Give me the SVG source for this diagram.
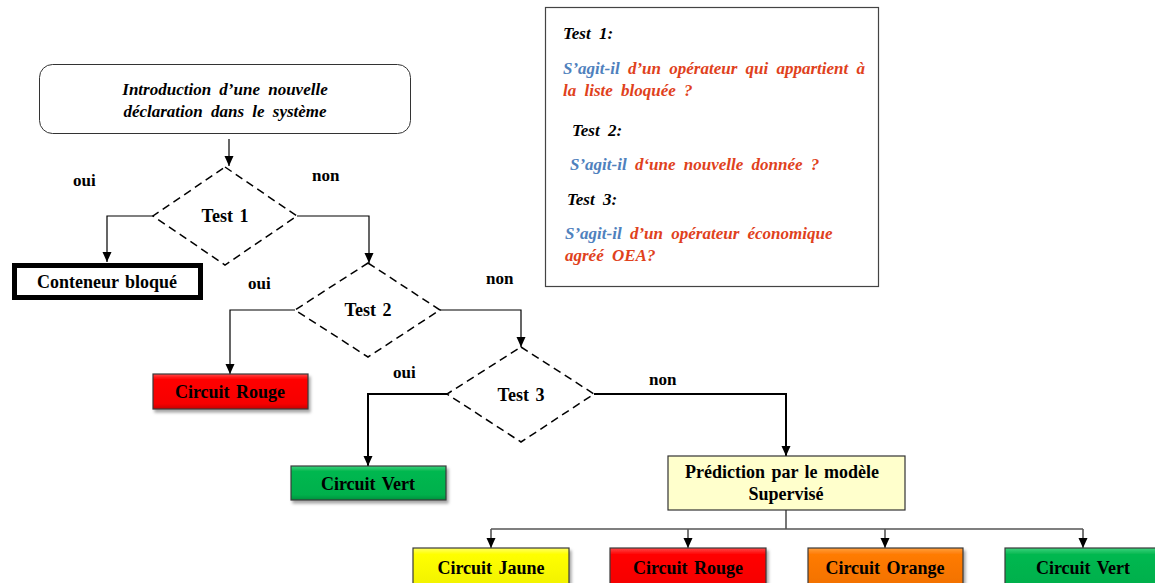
<svg xmlns="http://www.w3.org/2000/svg" width="1155" height="583" viewBox="0 0 1155 583">
  <defs>
    <marker id="arrow" markerUnits="userSpaceOnUse" markerWidth="10" markerHeight="10" viewBox="0 0 10 10" refX="10" refY="5" orient="auto">
      <path d="M0,0.5 L10,5 L0,9.5 Z" fill="#000"/>
    </marker>
    <linearGradient id="gRed" x1="0" y1="0" x2="0" y2="1">
      <stop offset="0" stop-color="#ff4a4a"/>
      <stop offset="0.15" stop-color="#ff0000"/>
      <stop offset="0.85" stop-color="#f60000"/>
      <stop offset="1" stop-color="#c80000"/>
    </linearGradient>
    <linearGradient id="gGreen" x1="0" y1="0" x2="0" y2="1">
      <stop offset="0" stop-color="#3fd37e"/>
      <stop offset="0.15" stop-color="#00b850"/>
      <stop offset="0.85" stop-color="#00b04c"/>
      <stop offset="1" stop-color="#00903c"/>
    </linearGradient>
    <linearGradient id="gYellow" x1="0" y1="0" x2="0" y2="1">
      <stop offset="0" stop-color="#ffff66"/>
      <stop offset="0.15" stop-color="#ffff00"/>
      <stop offset="1" stop-color="#f0f000"/>
    </linearGradient>
    <linearGradient id="gOrange" x1="0" y1="0" x2="0" y2="1">
      <stop offset="0" stop-color="#ffa040"/>
      <stop offset="0.15" stop-color="#ff7b00"/>
      <stop offset="1" stop-color="#f07000"/>
    </linearGradient>
    <filter id="shadow" x="-10%" y="-20%" width="125%" height="160%">
      <feDropShadow dx="2" dy="3" stdDeviation="1.5" flood-color="#000" flood-opacity="0.35"/>
    </filter>
  </defs>
  <style>
    .lbl { font-family: "Liberation Serif", "Times New Roman", serif; font-weight: bold; font-size: 17px; fill: #000; }
    .node-text { font-family: "Liberation Serif", "Times New Roman", serif; font-weight: bold; font-size: 18px; fill: #000; text-anchor: middle; word-spacing: 2px; }
    .ital { font-family: "Liberation Serif", "Times New Roman", serif; font-weight: bold; font-style: italic; font-size: 17px; word-spacing: 4px; }
    .box { stroke: #3a3a3a; stroke-width: 1.2; filter: url(#shadow); }
    .diamond { fill: #fff; stroke: #000; stroke-width: 1.5; stroke-dasharray: 8 5; }
    .conn { fill: none; stroke: #000; stroke-width: 1.2; }
    .conn-bold { fill: none; stroke: #000; stroke-width: 2; }
    .bus { fill: none; stroke: #555; stroke-width: 1.6; }
    .blue { fill: #4f81bd; }
    .red { fill: #e0411c; }
  </style>

  <rect width="1155" height="583" fill="#fff"/>

  <!-- connectors -->
  <g id="connectors">
    <path class="conn" d="M229,139 V166" marker-end="url(#arrow)"/>
    <path class="conn" d="M153,216 H107 V262" marker-end="url(#arrow)"/>
    <path class="conn" d="M297,216 H369 V263" marker-end="url(#arrow)"/>
    <path class="conn" d="M295,310 H230 V374" marker-end="url(#arrow)"/>
    <path class="conn" d="M440,310 H521 V347" marker-end="url(#arrow)"/>
    <path class="conn-bold" d="M447,394 H368 V466" marker-end="url(#arrow)"/>
    <path class="conn-bold" d="M594,394 H786 V456" marker-end="url(#arrow)"/>
    <path class="bus" d="M786,510 V529 M491,529 H1083"/>
    <path class="bus" d="M491,529 V548" marker-end="url(#arrow)"/>
    <path class="bus" d="M688,529 V548" marker-end="url(#arrow)"/>
    <path class="bus" d="M885,529 V548" marker-end="url(#arrow)"/>
    <path class="bus" d="M1083,529 V548" marker-end="url(#arrow)"/>
  </g>

  <!-- branch labels -->
  <g id="labels">
    <text class="lbl" x="73" y="186">oui</text>
    <text class="lbl" x="312" y="181">non</text>
    <text class="lbl" x="248" y="289">oui</text>
    <text class="lbl" x="486" y="284">non</text>
    <text class="lbl" x="393" y="378">oui</text>
    <text class="lbl" x="649" y="385">non</text>
  </g>

  <g id="intro">
    <rect x="39.5" y="64.5" width="371" height="69" rx="13" fill="#fff" stroke="#333" stroke-width="1"/>
    <text class="ital" x="225" y="95" text-anchor="middle" fill="#000">Introduction d’une nouvelle</text>
    <text class="ital" x="225" y="117" text-anchor="middle" fill="#000">déclaration dans le système</text>
  </g>

  <g id="test1">
    <polygon class="diamond" points="225,167 297,216 225,265 153,216"/>
    <text class="node-text" x="225" y="222">Test 1</text>
  </g>

  <g id="conteneur-bloque">
    <rect x="14.5" y="265.5" width="186" height="32" fill="#fff" stroke="#000" stroke-width="5"/>
    <text class="node-text" x="107" y="288">Conteneur bloqué</text>
  </g>

  <g id="test2">
    <polygon class="diamond" points="368,263 440,310 368,357 295,310"/>
    <text class="node-text" x="368" y="316">Test 2</text>
  </g>

  <g id="circuit-rouge-1">
    <rect class="box" x="153" y="374" width="155" height="35" fill="url(#gRed)"/>
    <text class="node-text" x="230" y="398">Circuit Rouge</text>
  </g>

  <g id="test3">
    <polygon class="diamond" points="521,347 594,394 521,442 447,394"/>
    <text class="node-text" x="521" y="401">Test 3</text>
  </g>

  <g id="circuit-vert-1">
    <rect class="box" x="291" y="466" width="155" height="34" fill="url(#gGreen)"/>
    <text class="node-text" x="368" y="490">Circuit Vert</text>
  </g>

  <g id="prediction">
    <rect x="668" y="456" width="237" height="54" fill="#ffffcc" stroke="#333" stroke-width="1.2"/>
    <text class="node-text" x="782" y="478">Prédiction par le modèle</text>
    <text class="node-text" x="786" y="500">Supervisé</text>
  </g>

  <g id="circuit-jaune">
    <rect class="box" x="413" y="548" width="156" height="42" fill="url(#gYellow)"/>
    <text class="node-text" x="491" y="574">Circuit Jaune</text>
  </g>

  <g id="circuit-rouge-2">
    <rect class="box" x="610" y="548" width="156" height="42" fill="url(#gRed)"/>
    <text class="node-text" x="688" y="574">Circuit Rouge</text>
  </g>

  <g id="circuit-orange">
    <rect class="box" x="808" y="548" width="155" height="42" fill="url(#gOrange)"/>
    <text class="node-text" x="885" y="574">Circuit Orange</text>
  </g>

  <g id="circuit-vert-2">
    <rect class="box" x="1005" y="548" width="156" height="42" fill="url(#gGreen)"/>
    <text class="node-text" x="1083" y="574">Circuit Vert</text>
  </g>

  <!-- legend describing the three tests -->
  <g id="legend">
    <rect x="545.5" y="7.5" width="333" height="279" fill="#fff" stroke="#444" stroke-width="1.2"/>
    <text class="ital" x="563" y="39" fill="#000">Test 1:</text>
    <text class="ital" x="563" y="74"><tspan class="blue">S’agit-il</tspan> <tspan class="red">d’un opérateur qui appartient à</tspan></text>
    <text class="ital red" x="563" y="96">la liste bloquée ?</text>
    <text class="ital" x="572" y="136" fill="#000">Test 2:</text>
    <text class="ital" x="570" y="170"><tspan class="blue">S’agit-il</tspan> <tspan class="red">d‘une nouvelle donnée ?</tspan></text>
    <text class="ital" x="567" y="205" fill="#000">Test 3:</text>
    <text class="ital" x="565" y="239"><tspan class="blue">S’agit-il</tspan> <tspan class="red">d’un opérateur économique</tspan></text>
    <text class="ital red" x="565" y="261">agréé OEA?</text>
  </g>
</svg>
